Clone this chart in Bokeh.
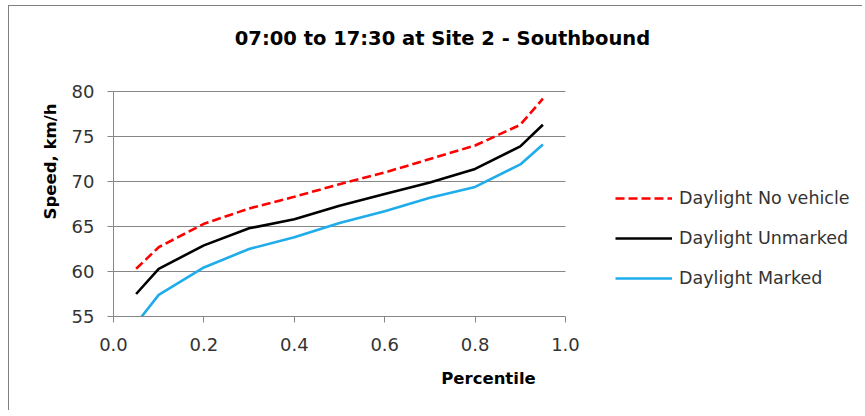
from bokeh.plotting import figure
from bokeh.models import (ColumnDataSource, FixedTicker, NumeralTickFormatter, Legend, LegendItem,
                          Range1d, Label)
from bokeh.embed import file_html
from bokeh.resources import INLINE

# ---- data ----
title_text = "07:00 to 17:30 at Site 2 - Southbound"
percentile = [0.05, 0.1, 0.2, 0.3, 0.4, 0.5, 0.6, 0.7, 0.8, 0.9, 0.95]
no_vehicle = [60.3, 62.7, 65.3, 67.0, 68.3, 69.7, 71.0, 72.5, 74.0, 76.3, 79.2]
unmarked = [57.5, 60.3, 62.9, 64.8, 65.8, 67.3, 68.6, 69.9, 71.4, 73.9, 76.3]
marked = [54.2, 57.4, 60.45, 62.5, 63.8, 65.4, 66.7, 68.2, 69.4, 71.9, 74.1]
series_names = ["Daylight No vehicle", "Daylight Unmarked", "Daylight Marked"]
x_ticks = [0.0, 0.2, 0.4, 0.6, 0.8, 1.0]
y_ticks = [55, 60, 65, 70, 75, 80]

FONT = "DejaVu Sans"
GRID = "#868686"
TXT = "#333333"

# layout (pixels): plot area 452 x 225 px, the frame is extended to hold title and legend
W, H = 854, 405
LEFT, BOTTOM = 104, 95
PLOT_W, PLOT_H = 452, 225
x_min, x_max = x_ticks[0], x_ticks[-1]
y_min, y_max = y_ticks[0], y_ticks[-1]
frame_w = W - LEFT
frame_h = H - BOTTOM
x_end = x_min + (x_max - x_min) * frame_w / PLOT_W
y_end = y_min + (y_max - y_min) * frame_h / PLOT_H

p = figure(width=W, height=H, output_backend="svg", toolbar_location=None,
           x_range=Range1d(x_min, x_end), y_range=Range1d(y_min, y_end),
           min_border_left=LEFT, min_border_right=0, min_border_top=0, min_border_bottom=BOTTOM,
           background_fill_color="white", border_fill_color="white")
p.outline_line_color = None
p.styles = {"border-left": "1px solid #808080", "border-top": "1px solid #808080",
            "margin-left": "8px", "margin-top": "5px"}

# gridlines (only over the plot area)
p.segment(x0=x_min, x1=x_max, y0=y_ticks[1:], y1=y_ticks[1:], line_color=GRID, line_width=1)

src = ColumnDataSource(dict(x=percentile, nv=no_vehicle, um=unmarked, mk=marked))
r1 = p.line("x", "nv", source=src, line_color="#FF0000", line_width=2.6, line_dash="9 4")
r2 = p.line("x", "um", source=src, line_color="#000000", line_width=2.6)
r3 = p.line("x", "mk", source=src, line_color="#1EACEB", line_width=2.6)

# axes
p.xaxis.ticker = FixedTicker(ticks=x_ticks)
p.yaxis.ticker = FixedTicker(ticks=y_ticks)
p.xaxis.bounds = (x_min, x_max)
p.yaxis.bounds = (y_min, y_max)
p.xaxis.formatter = NumeralTickFormatter(format="0.0")
for ax in (p.xaxis, p.yaxis):
    ax.axis_line_color = GRID
    ax.major_tick_line_color = GRID
    ax.minor_tick_line_color = None
    ax.major_tick_in = 0
    ax.major_tick_out = 6
    ax.major_label_text_font = FONT
    ax.major_label_text_font_size = "18px"
    ax.major_label_text_color = TXT
    ax.axis_label_text_font = FONT
    ax.axis_label_text_font_style = "bold"
    ax.axis_label_text_font_size = "16.5px"
    ax.axis_label_text_color = "#000000"
p.xaxis.axis_label = "Percentile"
p.yaxis.axis_label = "Speed, km/h"
p.xaxis.major_label_standoff = 15
p.yaxis.major_label_standoff = 13
p.xaxis.axis_label_standoff = 15
p.yaxis.axis_label_standoff = 9
p.xgrid.visible = False
p.ygrid.visible = False

# title
p.add_layout(Label(x=329, y=278, x_units="screen", y_units="screen", text=title_text,
                   text_font=FONT, text_font_style="bold", text_font_size="19.5px",
                   text_align="center", text_baseline="middle", text_color="#000000"))

legend = Legend(items=[LegendItem(label=series_names[0], renderers=[r1]),
                       LegendItem(label=series_names[1], renderers=[r2]),
                       LegendItem(label=series_names[2], renderers=[r3])],
                location=(502, 26), orientation="vertical")
legend.glyph_width = 57
legend.glyph_height = 24
legend.label_height = 24
legend.label_standoff = 7
legend.spacing = 16
legend.padding = 0
legend.margin = 0
legend.border_line_color = None
legend.background_fill_alpha = 0
legend.label_text_font = FONT
legend.label_text_font_size = "17.5px"
legend.label_text_color = TXT
p.add_layout(legend, "center")

open("out.html", "w").write(file_html(p, INLINE))
